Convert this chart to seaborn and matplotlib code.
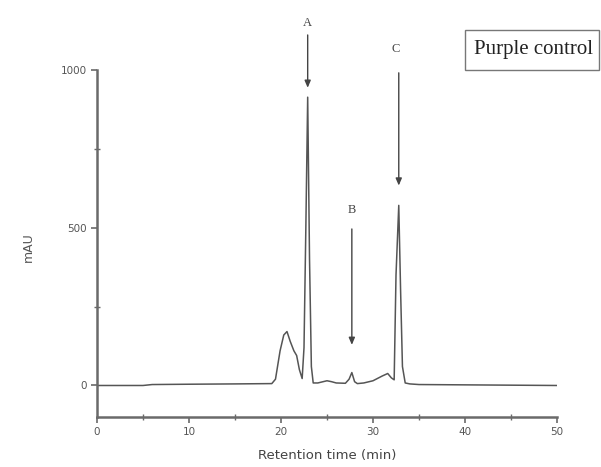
import numpy as np
import pandas as pd
import matplotlib
matplotlib.use("Agg")
import matplotlib.pyplot as plt
from matplotlib.patches import Rectangle
import seaborn as sns

# Chromatogram
time_min = [0, 5, 6, 10, 15, 19, 19.4, 19.9, 20.3, 20.65, 21.0, 21.4, 21.7, 22.0, 22.3,
            22.5, 22.7, 22.9, 23.1, 23.3, 23.5, 24.0, 25.0, 25.5, 26.0, 27.0, 27.4, 27.7,
            28.0, 28.3, 29.0, 30.0, 31.0, 31.6, 32.0, 32.3, 32.5, 32.8, 33.0, 33.2,
            33.5, 34.0, 35.0, 40.0, 45.0, 50.0]
signal_mau = [0, 0, 3, 4, 5, 6, 20, 110, 160, 171, 140, 110, 95, 50, 22,
              120, 500, 914, 400, 60, 8, 8, 15, 12, 8, 7, 20, 41,
              12, 6, 8, 15, 30, 38, 24, 18, 350, 571, 300, 60,
              8, 5, 3, 2, 1, 0]

peak_labels = ["A", "B", "C"]
peak_times = [22.9, 27.7, 32.8]
arrow_tops = [1120, 505, 1000]
arrow_heads = [935, 120, 625]
label_y = [1150, 555, 1068]

x_ticks = [0, 10, 20, 30, 40, 50]
y_ticks = [0, 500, 1000]
legend_text = "Purple control"

sns.set_theme(style="ticks")
fig = plt.figure(figsize=(6.01, 4.67), dpi=100)
ax = fig.add_axes([0.1614, 0.107, 0.7654, 0.743])

df = pd.DataFrame({"t": time_min, "s": signal_mau})
sns.lineplot(data=df, x="t", y="s", ax=ax, color="#555555", linewidth=1.1)

ax.set_xlim(0, 50)
ax.set_ylim(-100, 1000)
ax.set_xticks(x_ticks)
ax.set_yticks(y_ticks)
ax.set_xticks([5, 15, 25, 35, 45], minor=True)
ax.set_yticks([250, 750], minor=True)
for s in ["top", "right"]:
    ax.spines[s].set_visible(False)
for s in ["left", "bottom"]:
    ax.spines[s].set_color("#6a6a6a")
    ax.spines[s].set_linewidth(1.8)
ax.tick_params(which="major", direction="out", length=4, width=1.2,
               color="#6a6a6a", labelsize=7.5, labelcolor="#555555")
ax.tick_params(which="minor", direction="inout", length=4, width=1.0, color="#6a6a6a")
ax.set_xlabel("Retention time (min)", fontsize=9.5, color="#444444", labelpad=8)
ax.set_ylabel("mAU", fontsize=9, color="#555555")
ax.yaxis.set_label_coords(-0.135, 0.49)

for lab, t, top, head, ly in zip(peak_labels, peak_times, arrow_tops, arrow_heads, label_y):
    ax.annotate("", xy=(t, head), xytext=(t, top),
                arrowprops=dict(arrowstyle="-|>,head_length=0.35,head_width=0.15",
                                color="#444444", lw=1.0),
                annotation_clip=False)
    ax.text(t - 0.3 if lab == "C" else t, ly, lab, ha="center", va="center",
            fontsize=9, family="Liberation Serif", color="#444444", clip_on=False)

fig.patches.append(Rectangle((0.7737, 0.8501), 0.2229, 0.0857, transform=fig.transFigure,
                             fc="white", ec="#777777", lw=1.0))
fig.text(0.887, 0.893, legend_text, ha="center", va="center", fontsize=15,
         family="Liberation Serif", color="#222222")

fig.savefig("out.png", dpi=100)
